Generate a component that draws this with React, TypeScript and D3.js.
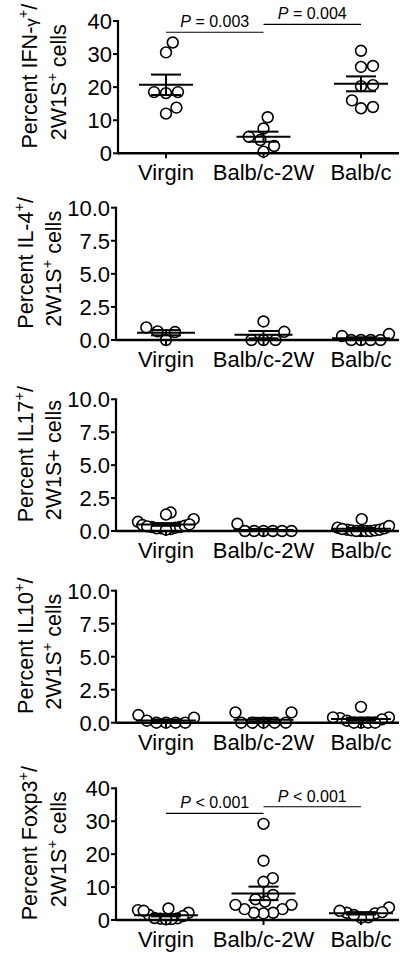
import React from "react";
import * as d3 from "d3";

// ---------- data ----------
const categories = ["Virgin", "Balb/c-2W", "Balb/c"];

const ifngVirgin = [33.5, 30.5, 18.5, 18.2, 18.5, 12.0, 13.8];
const ifngBalb2W = [10.9, 7.5, 4.0, 5.0, 2.2, 0.5];
const ifngBalb = [31.0, 26.1, 26.4, 20.6, 20.3, 16.0, 13.6, 14.0];

const il4Virgin = [0.6, 0.0, 0.65, 0.95];
const il4Balb2W = [0.0, 0.0, 0.0, 1.4, 0.62];
const il4Balb = [0.3, 0.0, 0.0, 0.0, 0.0, 0.45];

const il17Virgin = [0.9, 1.4, 1.25, 0.7, 0.45, 0.3, 0.2, 0.15, 0.25, 0.35, 0.2, 0.3, 0.4, 0.5, 0.1];
const il17Balb2W = [0.55, 0.0, 0.0, 0.0, 0.0, 0.0, 0.0];
const il17Balb = [0.9, 0.25, 0.1, 0.05, 0.0, 0.0, 0.0, 0.0, 0.05, 0.1, 0.15, 0.2, 0.38];

const il10Virgin = [0.58, 0.15, 0.0, 0.0, 0.0, 0.0, 0.38];
const il10Balb2W = [0.78, 0.0, 0.0, 0.0, 0.0, 0.0, 0.78];
const il10Balb = [1.2, 0.4, 0.35, 0.4, 0.25, 0.15, 0.0, 0.0, 0.0, 0.0];

const foxVirgin = [2.2, 1.5, 3.0, 3.5, 2.8, 0.5, 0.3, 0.4, 0.6, 0.2, 1.2];
const foxBalb2W = [29.2, 18.0, 12.7, 11.6, 7.6, 6.3, 4.6, 3.3, 2.2, 2.0, 2.2, 3.3, 4.6, 5.6];
const foxBalb = [3.8, 2.0, 2.4, 0.8, 0.7, 2.2, 2.8, 1.5];

const ticks40 = [0, 10, 20, 30, 40];
const ticks10 = [0, 2.5, 5, 7.5, 10];

const ifngBrackets = [
  { from: 0, to: 1, y: 36.6, op: "=", p: "0.003" },
  { from: 1, to: 2, y: 39.0, op: "=", p: "0.004" },
];
const foxBrackets = [
  { from: 0, to: 1, y: 32.4, op: "<", p: "0.001" },
  { from: 1, to: 2, y: 34.4, op: "<", p: "0.001" },
];

// ---------- layout ----------
const FONT = "'Liberation Sans', Arial, Helvetica, sans-serif";
const W = 404;
const H = 953;

type Panel = {
  name: string;
  greek: string;
  sup: string;
  line2: string;
  line2Sup: boolean;
  groups: number[][];
  ticks: number[];
  fmt: (v: number) => string;
  top: number;
  bottom: number;
  axisX: number;
  t1x: number;
  t2x: number;
  meanHalf: number;
  brackets: { from: number; to: number; y: number; op: string; p: string }[];
};

const panels: Panel[] = [
  { name: "Percent IFN-", greek: "\u03b3", sup: "+", line2: "2W1S", line2Sup: true, groups: [ifngVirgin, ifngBalb2W, ifngBalb], ticks: ticks40, fmt: d3.format("d"), top: 21, bottom: 153.3, axisX: 118, t1x: 37, t2x: 66, meanHalf: 27, brackets: ifngBrackets },
  { name: "Percent IL-4", greek: "", sup: "+", line2: "2W1S", line2Sup: true, groups: [il4Virgin, il4Balb2W, il4Balb], ticks: ticks10, fmt: d3.format(".1f"), top: 207.7, bottom: 340, axisX: 116, t1x: 33, t2x: 61, meanHalf: 29, brackets: [] },
  { name: "Percent IL17", greek: "", sup: "+", line2: "2W1S", line2Sup: false, groups: [il17Virgin, il17Balb2W, il17Balb], ticks: ticks10, fmt: d3.format(".1f"), top: 399.3, bottom: 531, axisX: 116, t1x: 33, t2x: 61, meanHalf: 30, brackets: [] },
  { name: "Percent IL10", greek: "", sup: "+", line2: "2W1S", line2Sup: true, groups: [il10Virgin, il10Balb2W, il10Balb], ticks: ticks10, fmt: d3.format(".1f"), top: 590.7, bottom: 722.7, axisX: 116, t1x: 33, t2x: 61, meanHalf: 30, brackets: [] },
  { name: "Percent Foxp3", greek: "", sup: "+", line2: "2W1S", line2Sup: true, groups: [foxVirgin, foxBalb2W, foxBalb], ticks: ticks40, fmt: d3.format("d"), top: 788.3, bottom: 920, axisX: 116, t1x: 37, t2x: 66, meanHalf: 32, brackets: foxBrackets },
];

const R = 5.4;
const COLLIDE = 12;
const MAX_HALF = 28;

function swarm(values: number[], y: (v: number) => number): number[] {
  const order = values.map((_, i) => i).sort((a, b) => values[a] - values[b]);
  const placed: { x: number; y: number }[] = [];
  const offs: number[] = new Array(values.length).fill(0);
  for (const i of order) {
    const py = y(values[i]);
    const iv: [number, number][] = [];
    for (const p of placed) {
      const dy = Math.abs(p.y - py);
      if (dy < COLLIDE) {
        const dx = Math.sqrt(COLLIDE * COLLIDE - dy * dy);
        iv.push([p.x - dx, p.x + dx]);
      }
    }
    const cands = [0, ...iv.flat()].sort((a, b) => Math.abs(a) - Math.abs(b) || b - a);
    const x = cands.find((c) => iv.every(([a, b]) => c <= a + 1e-6 || c >= b - 1e-6)) ?? 0;
    placed.push({ x, y: py });
    offs[i] = x;
  }
  const m = d3.max(offs, (o) => Math.abs(o)) ?? 0;
  const k = m > MAX_HALF ? MAX_HALF / m : 1;
  return offs.map((o) => o * k);
}

function PanelView({ p }: { p: Panel }) {
  const yMax = p.ticks[p.ticks.length - 1];
  const y = d3.scaleLinear().domain([0, yMax]).range([p.bottom, p.top]);
  const x = d3.scalePoint<string>().domain(categories).range([166, 361]);
  const mid = (p.top + p.bottom) / 2;
  return (
    <g>
      {/* y-axis title */}
      <text transform={`translate(${p.t1x},${mid - 11}) rotate(-90)`} textAnchor="middle" fontSize={21.5} fontFamily={FONT}>
        {p.name}
        {p.greek ? <tspan fontSize={17}>{p.greek}</tspan> : null}
        <tspan dy={-9} fontSize={14.5}>{p.sup}</tspan>
        <tspan dy={9}>/</tspan>
      </text>
      <text transform={`translate(${p.t2x},${mid - 5}) rotate(-90)`} textAnchor="middle" fontSize={21.5} fontFamily={FONT}>
        {p.line2}
        {p.line2Sup ? (
          <>
            <tspan dy={-9} fontSize={14.5}>+</tspan>
            <tspan dy={9}> cells</tspan>
          </>
        ) : (
          <tspan>+ cells</tspan>
        )}
      </text>

      {/* points */}
      {p.groups.map((vals, gi) => {
        const cx = x(categories[gi])!;
        const offs = swarm(vals, y);
        return vals.map((v, i) => (
          <circle key={`${gi}-${i}`} cx={cx + offs[i]} cy={y(v)} r={R} fill="#fff" stroke="#000" strokeWidth={1.6} />
        ));
      })}

      {/* mean & SEM */}
      {p.groups.map((vals, gi) => {
        const cx = x(categories[gi])!;
        const m = d3.mean(vals)!;
        const sem = (d3.deviation(vals) ?? 0) / Math.sqrt(vals.length);
        return (
          <g key={`m${gi}`} stroke="#000" strokeWidth={2}>
            <line x1={cx - p.meanHalf} x2={cx + p.meanHalf} y1={y(m)} y2={y(m)} />
            <line x1={cx} x2={cx} y1={y(m - sem)} y2={y(m + sem)} />
            <line x1={cx - 15} x2={cx + 15} y1={y(m + sem)} y2={y(m + sem)} />
            <line x1={cx - 15} x2={cx + 15} y1={y(m - sem)} y2={y(m - sem)} />
          </g>
        );
      })}

      {/* axes */}
      <line x1={p.axisX} x2={p.axisX} y1={p.top - 1} y2={p.bottom + 1} stroke="#000" strokeWidth={2.2} />
      <line x1={p.axisX} x2={399} y1={p.bottom} y2={p.bottom} stroke="#000" strokeWidth={2.4} />
      {p.ticks.map((t) => (
        <g key={`t${t}`}>
          <line x1={p.axisX - 5} x2={p.axisX} y1={y(t)} y2={y(t)} stroke="#000" strokeWidth={2} />
          <text x={p.axisX - 6} y={y(t)} dy="0.36em" textAnchor="end" fontSize={22} fontFamily={FONT}>
            {p.fmt(t)}
          </text>
        </g>
      ))}
      {categories.map((c) => (
        <g key={c}>
          <line x1={x(c)!} x2={x(c)!} y1={p.bottom} y2={p.bottom + 5} stroke="#000" strokeWidth={2} />
          <text x={x(c)!} y={p.bottom + 27} textAnchor="middle" fontSize={22} fontFamily={FONT}>
            {c}
          </text>
        </g>
      ))}

      {/* significance brackets */}
      {p.brackets.map((b, i) => {
        const x1 = x(categories[b.from])!;
        const x2 = x(categories[b.to])!;
        const by = y(b.y);
        return (
          <g key={`b${i}`}>
            <line x1={x1} x2={x2} y1={by} y2={by} stroke="#000" strokeWidth={1.2} />
            <text x={(x1 + x2) / 2} y={by - 5} textAnchor="middle" fontSize={16} fontFamily={FONT}>
              <tspan fontStyle="italic">P</tspan>
              {` ${b.op} ${b.p}`}
            </text>
          </g>
        );
      })}
    </g>
  );
}

export default function App() {
  return (
    <svg width={W} height={H} style={{ position: "absolute", left: 0, top: 0, background: "#fff" }}>
      <rect width={W} height={H} fill="#fff" />
      {panels.map((p, i) => (
        <PanelView key={i} p={p} />
      ))}
    </svg>
  );
}
